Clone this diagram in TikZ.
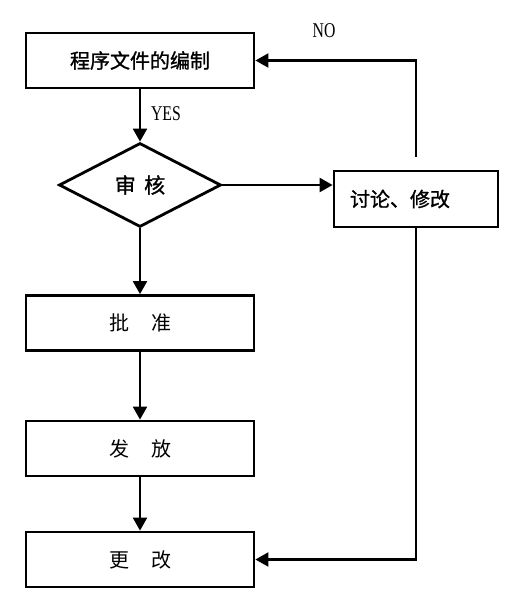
\documentclass[tikz,border=0pt]{standalone}
\usepackage{fontspec}
\newfontfamily\cjk{Noto Sans CJK SC}
\newfontfamily\cjkgras[FakeBold=1.2]{Noto Sans CJK SC}
\newfontfamily\etroit[FakeStretch=0.75]{Liberation Serif}
\usepackage{tikz}
\usetikzlibrary{shapes.geometric}
\usetikzlibrary{arrows.meta}
\usetikzlibrary{calc}
\tikzstyle{etape}=[rectangle,draw,line width=2.8pt,minimum width=228pt,minimum height=55pt,inner sep=0pt,font=\cjk\fontsize{20}{22}\selectfont]
\tikzstyle{test}=[diamond,draw,line width=2.8pt,aspect=1.93,minimum width=162pt,minimum height=84pt,inner sep=0pt,font=\cjkgras\fontsize{21}{23}\selectfont]
\tikzstyle{revue}=[rectangle,draw,line width=2.8pt,minimum width=164pt,minimum height=56pt,inner xsep=16pt,text width=132pt,align=left,font=\cjkgras\fontsize{20}{22}\selectfont]
\tikzstyle{suite}=[-{Triangle[length=13pt,width=14pt]},line width=2.2pt]
\tikzstyle{mot}=[font=\etroit\fontsize{21}{23}\selectfont]

\begin{document}
\begin{tikzpicture}[x=1pt,y=-1pt]
\useasboundingbox (0,0) rectangle (504,608);
\node[etape,font=\cjkgras\fontsize{20}{22}\selectfont] (a) at (140,60.5) {程序文件的编制};
\node[test] (b) at (140,185) {审\hspace{0.4em}核};
\node[revue] (e) at (416,199) {讨论、修改};
\node[etape] (c) at (140,323) {批\hspace{1.1em}准};
\node[etape] (d) at (140,448.5) {发\hspace{1.1em}放};
\node[etape] (f) at (140,559.5) {更\hspace{1.1em}改};
\coordinate (g) at (416,157);
\node[mot] (oui) at (166,114) {YES};
\node[mot] (non) at (324,31) {NO};
%connexions
\draw[suite] (a) -- (b);
\draw[suite] (b.east) -- (b.east -| e.west);
\draw[suite] (g) |- (a);
\draw[suite] (e) |- (f);
\draw[suite] (b) -- (c);
\draw[suite] (c) -- (d);
\draw[suite] (d) -- (f);
\end{tikzpicture}
\end{document}
